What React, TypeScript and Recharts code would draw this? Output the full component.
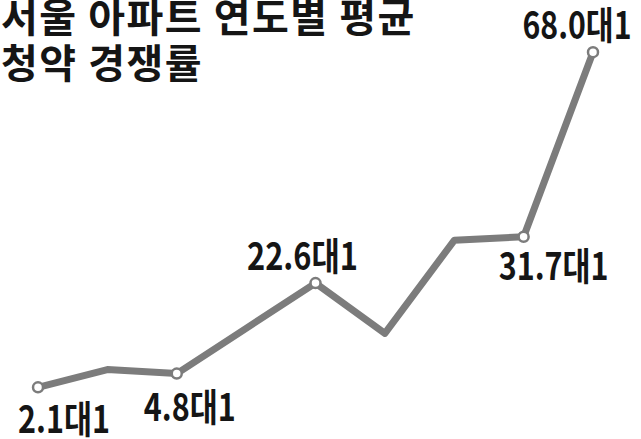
import React from "react"
import { LineChart, Line, XAxis, YAxis } from "recharts"

const years = ["2012", "2013", "2014", "2015", "2016", "2017", "2018", "2019", "2020"]
const rates = [2.1, 5.6, 4.8, 13.7, 22.6, 12.7, 31.0, 31.7, 68.0]
const labels = ["2.1대1", "", "4.8대1", "", "22.6대1", "", "", "31.7대1", "68.0대1"]

const data = years.map((year, i) => ({ year, rate: rates[i], label: labels[i] }))

// label offsets from the dot: [dx, dy, width]
const labelPos: Record<number, [number, number, number]> = {
  0: [26, 46, 92],
  2: [13, 47, 92],
  4: [-13, -13, 111],
  7: [30, 43, 110],
  8: [-16, -13, 109],
}

const FONT = "'Noto Sans CJK KR', 'Noto Sans', sans-serif"
const GRAY = "#7c7c7c"

function Dot(props: any) {
  const { cx, cy, index, payload } = props
  if (!payload.label) return <g key={index} />
  const [dx, dy, w] = labelPos[index]
  return (
    <g key={index}>
      <circle cx={cx} cy={cy} r={5} fill="#fff" stroke={GRAY} strokeWidth={2.5} />
      <text
        x={cx + dx}
        y={cy + dy}
        textAnchor="middle"
        textLength={w}
        lengthAdjust="spacingAndGlyphs"
        fontFamily={FONT}
        fontWeight={700}
        fontSize={38}
        fill="#151515"
      >
        {payload.label}
      </text>
    </g>
  )
}

export default function App() {
  return (
    <div style={{ position: "absolute", left: 0, top: 0, width: 641, height: 439, background: "#fff" }}>
      <div
        style={{
          position: "absolute",
          left: 1,
          top: -8,
          fontFamily: FONT,
          fontWeight: 700,
          fontSize: 40,
          lineHeight: "46px",
          letterSpacing: 1.5,
          color: "#151515",
          whiteSpace: "nowrap",
          zIndex: 2,
        }}
      >
        <div>서울 아파트 연도별 평균</div>
        <div>청약 경쟁률</div>
      </div>
      <LineChart width={641} height={439} data={data} margin={{ top: 42, right: 48, bottom: 41, left: 38 }}>
        <XAxis dataKey="year" hide />
        <YAxis hide domain={[0, 70]} />
        <Line
          dataKey="rate"
          stroke={GRAY}
          strokeWidth={7}
          strokeLinejoin="round"
          dot={Dot}
          activeDot={false}
          isAnimationActive={false}
        />
      </LineChart>
    </div>
  )
}
